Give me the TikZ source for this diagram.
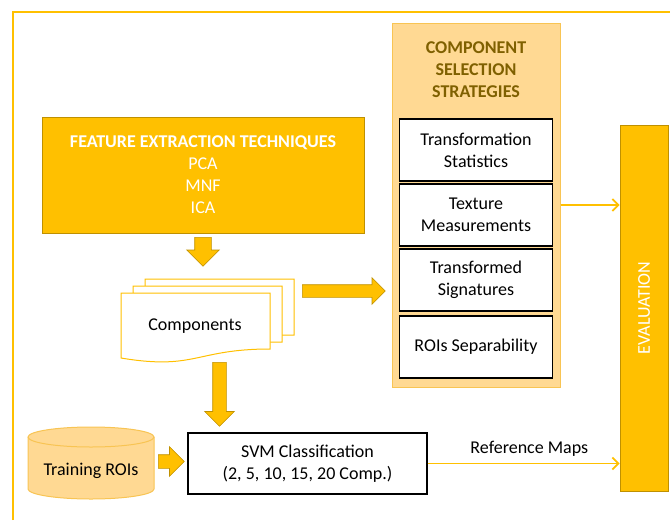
\documentclass[tikz,border=0pt]{standalone}
\usepackage{fontspec}
\setmainfont{Carlito}
\usepackage{xcolor}
\usepackage{tikz}
\usetikzlibrary{calc,shapes,arrows,arrows.meta,positioning}
\definecolor{gold}{HTML}{FFC000}
\definecolor{golddark}{HTML}{BF9000}
\definecolor{goldlight}{HTML}{FFD993}
\definecolor{goldedge}{HTML}{F8C453}
\definecolor{goldtext}{HTML}{7F6000}

\begin{document}
\begin{tikzpicture}[x=1pt,y=-1pt]
      \tikzstyle{every node}=[font=\fontsize{18}{22}\selectfont, align=center, inner sep=0pt]
      \tikzstyle{darkbox}=[rectangle, fill=gold, draw=golddark, line width=0.8pt]
      \tikzstyle{whitebox}=[rectangle, fill=white, draw=black, line width=1.2pt, minimum width=153pt, minimum height=62pt]
      \tikzstyle{fatarrow}=[single arrow, fill=gold, draw=golddark, line width=0.6pt, single arrow head extend=8pt, single arrow tip angle=90, anchor=tail]
      \tikzstyle{docline}=[fill=white, draw=gold, line width=1pt]
      \tikzstyle{thinarrow}=[-{Straight Barb[length=6pt,width=12pt]}, draw=gold, line width=1.8pt]

      \useasboundingbox (0,0) rectangle (670,520);
      % frame
      \draw[gold, line width=1.2pt] (13,520) -- (13,12) -- (670,12);

      \node[darkbox, minimum width=322pt, minimum height=116pt, text=white] (feat) at (203,175)
        {\textbf{FEATURE EXTRACTION TECHNIQUES}\\PCA\\MNF\\ICA};

      % components (stacked documents)
      \foreach \dx/\dy in {24/-14, 12/-7, 0/0} {
        \begin{scope}[shift={(121+\dx,293+\dy)}]
          \draw[docline] (0,0) -- (149,0) -- (149,56) .. controls (74.5,56) and (74.5,77.5) .. (0,65) -- cycle;
        \end{scope}
      }
      \node (comp) at (195,326) {Components};

      \node[rectangle, fill=goldlight, draw=goldedge, line width=1pt, minimum width=168pt, minimum height=364pt] (panel) at (476,205) {};
      \node[text=goldtext, font=\fontsize{18}{22}\selectfont\bfseries] (title) at (476,70) {COMPONENT\\SELECTION\\STRATEGIES};
      \node[whitebox] (stat) at (476,150) {Transformation\\Statistics};
      \node[whitebox] (tex) at (476,215) {Texture\\Measurements};
      \node[whitebox] (sig) at (476,280) {Transformed\\Signatures};
      \node[whitebox] (sep) at (476,347) {ROIs Separability};

      \node[darkbox, minimum width=48pt, minimum height=366pt] (eval) at (644,308) {};
      \node[rotate=90, text=white] (evaltxt) at (eval) {EVALUATION};

      \node[whitebox, minimum width=239pt, minimum height=61pt] (svm) at (307.5,463.5)
        {SVM Classification\\(2, 5, 10, 15, 20 Comp.)};

      % training rois cylinder
      \draw[fill=goldlight, draw=goldedge, line width=1pt] (28,437) -- (28,489) arc (180:360:63pt and 10pt)
        -- (154,437) arc (0:180:63pt and 10pt) -- cycle;
      \draw[goldedge, line width=1pt] (28,437) arc (180:360:63pt and 10pt);
      \node (roi) at (91,471) {Training ROIs};

      % block arrows
      \node[fatarrow, rotate=-90, minimum height=29pt] (fa) at (203,237) {\rule{0pt}{16pt}};
      \node[fatarrow, single arrow head extend=7pt, minimum height=83pt] (ca) at (302,291) {\rule{0pt}{12pt}};
      \node[fatarrow, rotate=-90, minimum height=64pt] (cb) at (219.5,362) {\rule{0pt}{13pt}};
      \node[fatarrow, minimum height=26pt] (ta) at (158,461.5) {\rule{0pt}{13pt}};

      \draw[thinarrow] (panel.east) -- (panel.east -| eval.west);
      \draw[thinarrow] (svm.east) -- (svm.east -| eval.west) node[pos=0.53, above=6pt, text=black] (refmap) {Reference Maps};
\end{tikzpicture}
\end{document}
